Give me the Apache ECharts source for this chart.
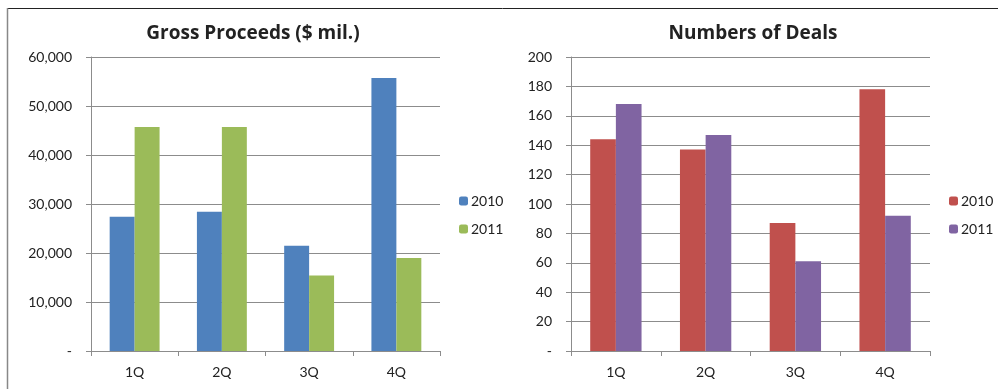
<!DOCTYPE html>
<html>
<head>
<meta charset="utf-8">
<script src="https://cdn.jsdelivr.net/npm/echarts@6/dist/echarts.min.js"></script>
<style>
html,body{margin:0;padding:0;background:#fff;}
#c{width:998px;height:389px;}
</style>
</head>
<body>
<div id="c"></div>
<script>
const categories = ['1Q', '2Q', '3Q', '4Q'];
const proceeds2010 = [27400, 28400, 21500, 55700];
const proceeds2011 = [45700, 45700, 15400, 19000];
const deals2010 = [144, 137, 87, 178];
const deals2011 = [168, 147, 61, 92];
const proceedsTicks = [0, 10000, 20000, 30000, 40000, 50000, 60000];
const dealsTicks = [0, 20, 40, 60, 80, 100, 120, 140, 160, 180, 200];

const FONT = 'Lato, "Open Sans", sans-serif';
const TFONT = '"Open Sans", Lato, sans-serif';
const TXT = '#222';
const GRIDC = '#8c8c8c';
const fmt = v => v === 0 ? '-' : v.toLocaleString('en-US');

function xAxis(gi) {
  return {
    type: 'category', gridIndex: gi, data: categories,
    axisLine: {lineStyle: {color: GRIDC, width: 1}},
    axisTick: {show: true, length: 5, lineStyle: {color: GRIDC}},
    axisLabel: {color: TXT, fontSize: 14, fontFamily: FONT, margin: 14}
  };
}
function yAxis(gi, ticks) {
  return {
    type: 'value', gridIndex: gi,
    min: ticks[0], max: ticks[ticks.length - 1], interval: ticks[1] - ticks[0],
    axisLine: {show: true, lineStyle: {color: GRIDC, width: 1}},
    axisTick: {show: true, length: 5, lineStyle: {color: GRIDC}},
    axisLabel: {color: TXT, fontSize: 14, fontFamily: FONT, margin: 19, formatter: fmt},
    splitLine: {show: true, lineStyle: {color: GRIDC, width: 1}}
  };
}
function bar(name, data, color, gi) {
  return {
    type: 'bar', name: name, data: data, xAxisIndex: gi, yAxisIndex: gi,
    barWidth: '28.6%', barGap: '0%',
    itemStyle: {color: color}, animation: false
  };
}

const chart = echarts.init(document.getElementById('c'), null, {renderer: 'canvas'});
chart.setOption({
  animation: false,
  backgroundColor: '#fff',
  title: [
    {text: 'Gross Proceeds ($ mil.)', left: 248, top: 19, textAlign: 'center',
     textStyle: {fontSize: 19, fontWeight: 'bold', color: TXT, fontFamily: TFONT}},
    {text: 'Numbers of Deals', left: 748, top: 19, textAlign: 'center',
     textStyle: {fontSize: 19, fontWeight: 'bold', color: TXT, fontFamily: TFONT}}
  ],
  grid: [
    {left: 91, top: 57, width: 349, height: 294},
    {left: 571, top: 57, width: 359, height: 294}
  ],
  xAxis: [xAxis(0), xAxis(1)],
  yAxis: [yAxis(0, proceedsTicks), yAxis(1, dealsTicks)],
  legend: [
    {orient: 'vertical', left: 454, top: 189, itemWidth: 9, itemHeight: 9, itemGap: 14,
     textStyle: {color: TXT, fontSize: 14, fontFamily: FONT, padding: [0, 0, 0, -2]},
     data: [{name: '2010', itemStyle: {color: '#4F81BD'}}, {name: '2011', itemStyle: {color: '#9BBB59'}}],
     selectedMode: false},
    {orient: 'vertical', left: 944, top: 189, itemWidth: 9, itemHeight: 9, itemGap: 14,
     textStyle: {color: TXT, fontSize: 14, fontFamily: FONT, padding: [0, 0, 0, -2]},
     data: [{name: '2010', itemStyle: {color: '#C0504D'}}, {name: '2011', itemStyle: {color: '#8064A2'}}],
     selectedMode: false}
  ],
  series: [
    bar('2010', proceeds2010, '#4F81BD', 0),
    bar('2011', proceeds2011, '#9BBB59', 0),
    bar('2010', deals2010, '#C0504D', 1),
    bar('2011', deals2011, '#8064A2', 1)
  ],
  graphic: [
    {type: 'line', shape: {x1: 7, y1: 8.5, x2: 998, y2: 8.5}, style: {stroke: '#222', lineWidth: 1}, silent: true},
    {type: 'line', shape: {x1: 7.5, y1: 8, x2: 7.5, y2: 389}, style: {stroke: '#888', lineWidth: 1.5}, silent: true}
  ]
});
</script>
</body>
</html>
